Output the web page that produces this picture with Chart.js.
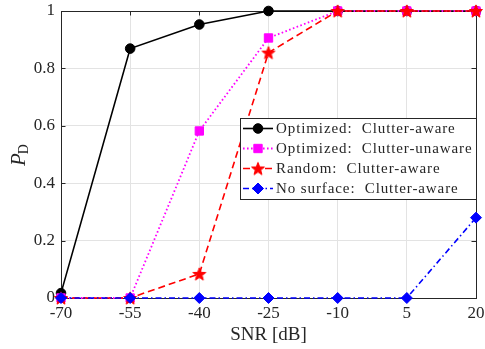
<!DOCTYPE html>
<html><head><meta charset="utf-8">
<script src="https://cdn.jsdelivr.net/npm/chart.js@4/dist/chart.umd.min.js"></script>
<style>html,body{margin:0;padding:0;background:#fff}#wrap{width:485px;height:349px;position:relative}</style>
</head><body><div id="wrap"><canvas id="c" width="485" height="349"></canvas></div>
<script>
const snrLabels = ['-70', '-55', '-40', '-25', '-10', '5', '20'];
const optAware = [0.017, 0.869, 0.953, 1, 1, 1, 1];
const optUnaware = [0, 0, 0.582, 0.906, 1, 1, 1];
const randAware = [0, 0, 0.084, 0.855, 1, 1, 1];
const noSurface = [0, 0, 0, 0, 0, 0, 0.28];
const seriesNames = ['Optimized:  Clutter-aware', 'Optimized:  Clutter-unaware', 'Random:  Clutter-aware', 'No surface:  Clutter-aware'];
const xTitle = 'SNR [dB]';
const yTitleMain = 'P';
const yTitleSub = 'D';

const AX = '#262626';
const SERIF = '"Liberation Serif", "DejaVu Serif", serif';

function makeStar(color, R) {
  const s = Math.ceil(R * 2 + 4);
  const cv = document.createElement('canvas');
  cv.width = s; cv.height = s;
  const c = cv.getContext('2d');
  const cx = s / 2, cy = s / 2 + R * 0.1, r = R * 0.42;
  c.beginPath();
  for (let i = 0; i < 10; i++) {
    const a = -Math.PI / 2 + i * Math.PI / 5;
    const rr = i % 2 === 0 ? R : r;
    const px = cx + rr * Math.cos(a), py = cy + rr * Math.sin(a);
    if (i === 0) c.moveTo(px, py); else c.lineTo(px, py);
  }
  c.closePath();
  c.fillStyle = color; c.fill();
  c.strokeStyle = color; c.lineWidth = 1; c.stroke();
  return cv;
}
const starImg = makeStar('#ff0000', 6.8);

const datasets = [
  { label: seriesNames[0], data: optAware, borderColor: '#000000', backgroundColor: '#000000',
    borderWidth: 1.6, pointStyle: 'circle', pointRadius: 4.8, order: 4 },
  { label: seriesNames[1], data: optUnaware, borderColor: '#ff00ff', backgroundColor: '#ff00ff',
    borderWidth: 1.8, borderDash: [1.6, 2.4], pointStyle: 'rect', pointRadius: 5.9, order: 3 },
  { label: seriesNames[2], data: randAware, borderColor: '#ff0000', backgroundColor: '#ff0000',
    borderWidth: 1.6, borderDash: [7, 4], pointStyle: starImg, pointRadius: 7, order: 2 },
  { label: seriesNames[3], data: noSurface, borderColor: '#0000ff', backgroundColor: '#0000ff',
    borderWidth: 1.6, borderDash: [6, 3, 1.5, 3], pointStyle: 'rectRot', pointRadius: 5.5, order: 1 }
];
datasets.forEach(d => { d.tension = 0; d.fill = false; d.clip = false; d.pointBorderWidth = 1; d.pointHoverRadius = d.pointRadius; });

const framePlugin = {
  id: 'frame',
  beforeDatasetsDraw(chart) {
    const { ctx, chartArea: a, scales } = chart;
    ctx.save();
    ctx.strokeStyle = AX; ctx.lineWidth = 1;
    ctx.strokeRect(Math.round(a.left) + 0.5, Math.round(a.top) + 0.5, Math.round(a.right - a.left), Math.round(a.bottom - a.top));
    ctx.beginPath();
    const tl = 4.5;
    scales.x.ticks.forEach((t, i) => {
      const x = Math.round(scales.x.getPixelForTick(i)) + 0.5;
      ctx.moveTo(x, a.bottom); ctx.lineTo(x, a.bottom - tl);
      ctx.moveTo(x, a.top); ctx.lineTo(x, a.top + tl);
    });
    scales.y.ticks.forEach((t, i) => {
      const y = Math.round(scales.y.getPixelForTick(i)) + 0.5;
      ctx.moveTo(a.left, y); ctx.lineTo(a.left + tl, y);
      ctx.moveTo(a.right, y); ctx.lineTo(a.right - tl, y);
    });
    ctx.stroke();
    ctx.restore();
  },
  afterDraw(chart) {
    const { ctx } = chart;
    // y title
    ctx.save();
    ctx.fillStyle = AX;
    ctx.translate(25, 166);
    ctx.rotate(-Math.PI / 2);
    ctx.textBaseline = 'alphabetic'; ctx.textAlign = 'left';
    ctx.font = 'italic 21px ' + SERIF;
    ctx.fillText(yTitleMain, 0, 0);
    const w = ctx.measureText(yTitleMain).width;
    ctx.font = '14px ' + SERIF;
    ctx.fillText(yTitleSub, w - 1, 3);
    ctx.restore();
    // legend
    const bx = 240.5, by = 118.5, bw = 236, bh = 81;
    ctx.save();
    ctx.fillStyle = '#ffffff';
    ctx.fillRect(bx, by, bw, bh);
    ctx.strokeStyle = AX; ctx.lineWidth = 1;
    ctx.strokeRect(bx, by, bw, bh);
    const rows = [128.5, 148.5, 168.5, 188.5];
    chart.data.datasets.forEach((d, i) => {
      const y = rows[i];
      ctx.save();
      ctx.strokeStyle = d.borderColor; ctx.lineWidth = d.borderWidth;
      ctx.setLineDash(d.borderDash || []);
      ctx.beginPath(); ctx.moveTo(243, y); ctx.lineTo(273, y); ctx.stroke();
      ctx.restore();
      ctx.save();
      ctx.fillStyle = d.backgroundColor; ctx.strokeStyle = d.borderColor; ctx.lineWidth = 1;
      Chart.helpers.drawPoint(ctx, { pointStyle: d.pointStyle, radius: d.pointRadius, borderWidth: 1, rotation: 0 }, 258, y);
      ctx.restore();
      ctx.fillStyle = AX;
      ctx.font = '15px ' + SERIF;
      ctx.textBaseline = 'middle'; ctx.textAlign = 'left';
      ctx.letterSpacing = '0.9px';
      ctx.fillText(d.label, 276, y + 0.5);
      ctx.letterSpacing = '0px';
    });
    ctx.restore();
  }
};

function zeroPad(s) { s.paddingTop = 0; s.paddingBottom = 0; s.paddingLeft = 0; s.paddingRight = 0; }

new Chart(document.getElementById('c'), {
  type: 'line',
  data: { labels: snrLabels, datasets },
  plugins: [framePlugin],
  options: {
    responsive: false, animation: false, devicePixelRatio: 1,
    layout: { padding: { top: 11, right: 9, left: 0, bottom: 0 } },
    plugins: { legend: { display: false }, tooltip: { enabled: false } },
    scales: {
      x: {
        type: 'category', offset: false,
        grid: { color: '#e3e3e3', lineWidth: 1, drawTicks: false },
        border: { display: false },
        ticks: { color: AX, font: { family: SERIF, size: 17 }, padding: 5, maxRotation: 0, autoSkip: false },
        title: { display: true, text: xTitle, color: AX, font: { family: SERIF, size: 19 }, padding: { top: 0, bottom: 3 } },
        afterFit(s) { s.height = 51; zeroPad(s); }
      },
      y: {
        min: 0, max: 1,
        grid: { color: '#e3e3e3', lineWidth: 1, drawTicks: false },
        border: { display: false },
        ticks: { stepSize: 0.2, color: AX, font: { family: SERIF, size: 17 }, padding: 6,
          callback: v => String(Math.round(v * 10) / 10) },
        afterFit(s) { s.width = 61; zeroPad(s); }
      }
    }
  }
});
</script></body></html>
